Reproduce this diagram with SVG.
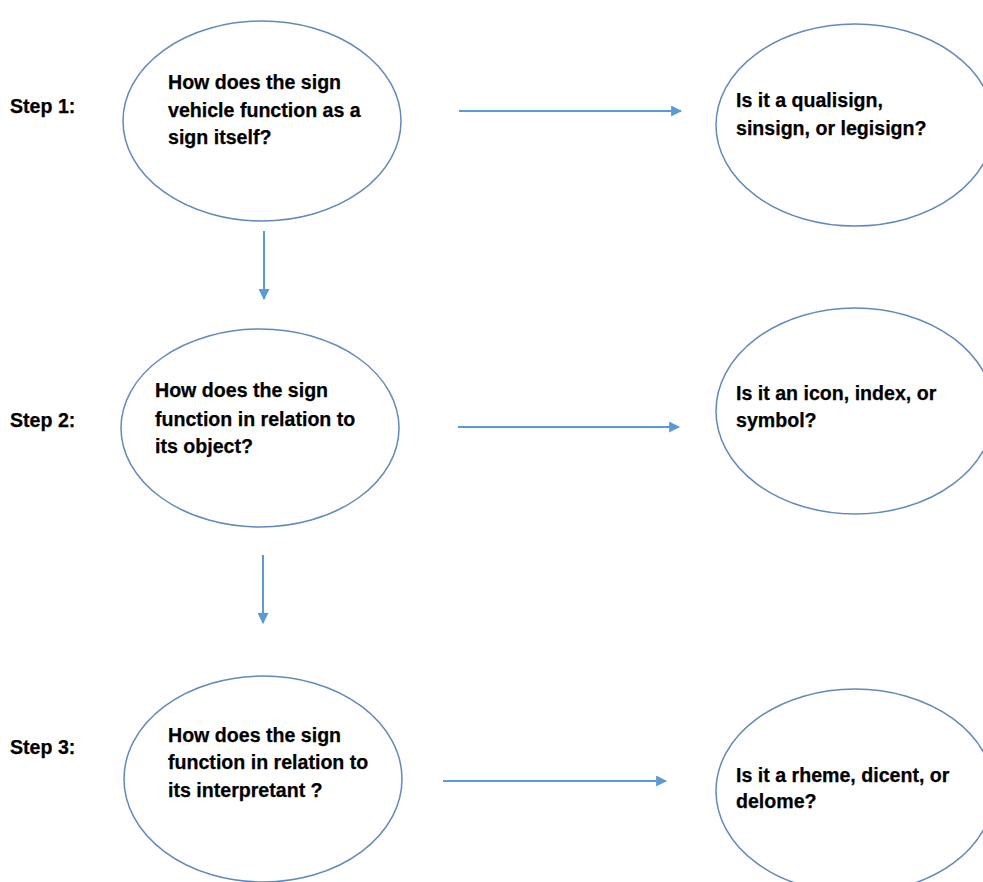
<svg xmlns="http://www.w3.org/2000/svg" width="983" height="882" viewBox="0 0 983 882">
<style>
.node ellipse{fill:#fff;stroke:#6189bd;stroke-width:1.5}
text{font-family:"Liberation Sans",Arial,sans-serif;font-weight:bold;font-size:19.6px;fill:#000;stroke:#000;stroke-width:0.25}
.conn line{stroke:#5b9bd5;stroke-width:2}
</style>
<defs>
<marker id="ah" viewBox="0 0 10 10" refX="9" refY="5" markerWidth="5.5" markerHeight="5.5" orient="auto" markerUnits="strokeWidth">
<path d="M0,0 L10,5 L0,10 z" fill="#5b9bd5"/>
</marker>
</defs>
<rect width="983" height="882" fill="#fff"/>
<g id="labels">
<text x="10" y="113">Step 1:</text>
<text x="10" y="427">Step 2:</text>
<text x="10" y="754">Step 3:</text>
</g>
<g id="n1" class="node">
<ellipse cx="262" cy="121" rx="139" ry="100"/>
<text x="168" y="89">How does the sign</text>
<text x="168" y="117">vehicle function as a</text>
<text x="168" y="144">sign itself?</text>
</g>
<g id="n2" class="node">
<ellipse cx="855" cy="125" rx="139" ry="101"/>
<text x="736" y="107">Is it a qualisign,</text>
<text x="736" y="135">sinsign, or legisign?</text>
</g>
<g id="n3" class="node">
<ellipse cx="260" cy="428" rx="139" ry="99"/>
<text x="155" y="397">How does the sign</text>
<text x="155" y="426">function in relation to</text>
<text x="155" y="453">its object?</text>
</g>
<g id="n4" class="node">
<ellipse cx="855" cy="411" rx="139" ry="103"/>
<text x="736" y="400">Is it an icon, index, or</text>
<text x="736" y="427">symbol?</text>
</g>
<g id="n5" class="node">
<ellipse cx="263" cy="779" rx="139" ry="103"/>
<text x="168" y="742">How does the sign</text>
<text x="168" y="769">function in relation to</text>
<text x="168" y="797">its interpretant ?</text>
</g>
<g id="n6" class="node">
<ellipse cx="855" cy="791" rx="139" ry="102"/>
<text x="736" y="782">Is it a rheme, dicent, or</text>
<text x="736" y="808">delome?</text>
</g>
<g id="connectors" class="conn">
<line x1="459" y1="111" x2="681" y2="111" marker-end="url(#ah)"/>
<line x1="264" y1="231" x2="264" y2="299" marker-end="url(#ah)"/>
<line x1="458" y1="427" x2="679" y2="427" marker-end="url(#ah)"/>
<line x1="263" y1="555" x2="263" y2="623" marker-end="url(#ah)"/>
<line x1="443" y1="781" x2="666" y2="781" marker-end="url(#ah)"/>
</g>
</svg>
